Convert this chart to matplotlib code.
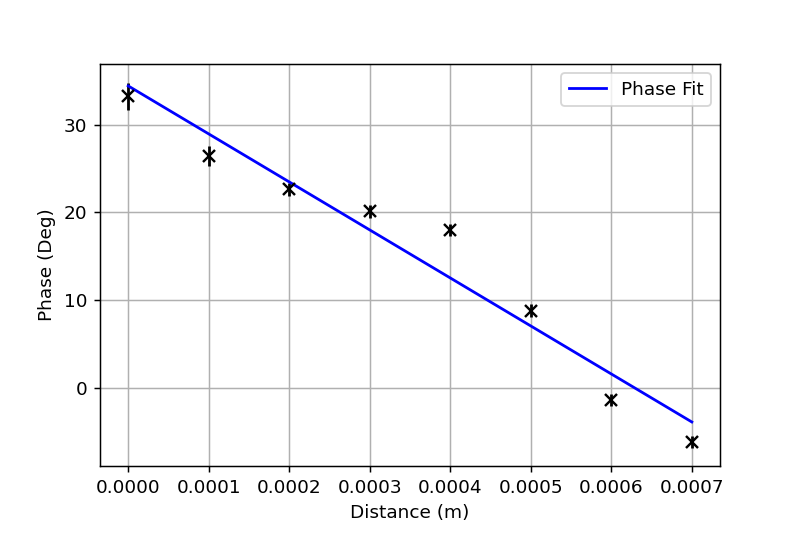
import matplotlib
matplotlib.use("Agg")
import matplotlib.pyplot as plt
import numpy as np

distance = [0.0000, 0.0001, 0.0002, 0.0003, 0.0004, 0.0005, 0.0006, 0.0007]
phase = [33.2, 26.4, 22.6, 20.1, 18.0, 8.8, -1.4, -6.2]
phase_err = [1.5, 1.1, 0.7, 0.7, 0.7, 0.7, 0.7, 0.7]
fit_x = [0.0000, 0.0007]
fit_y = [34.4, -3.9]
xtick_labels = ['0.0000', '0.0001', '0.0002', '0.0003', '0.0004', '0.0005', '0.0006', '0.0007']

fig, ax = plt.subplots(figsize=(6, 533/(800/6)), dpi=800/6)
fig.subplots_adjust(left=0.125, right=0.9, top=0.88, bottom=0.126)
ax.errorbar(distance, phase, yerr=phase_err, fmt='x', color='black', ms=6, mew=1.3, elinewidth=1.5)
ax.plot(fit_x, fit_y, color='blue', label='Phase Fit')
ax.set_xlabel('Distance (m)')
ax.set_ylabel('Phase (Deg)')
ax.set_xticks(distance)
ax.set_xticklabels(xtick_labels)
ax.set_ylim(-8.9, 36.9)
ax.grid(True)
ax.legend(loc='upper right')
fig.savefig('out.png')
